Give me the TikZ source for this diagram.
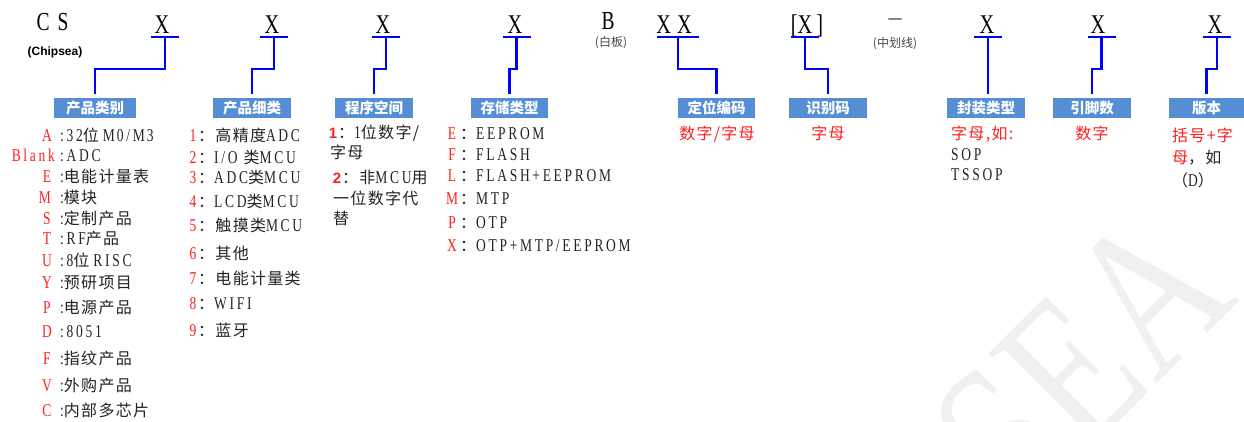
\documentclass[tikz,border=0pt]{standalone}
\usepackage{fontspec}
\usepackage{graphicx}
\setmainfont{Liberation Serif}
\newfontfamily\latn{Liberation Serif}[FakeStretch=0.75]
\newfontfamily\latsp{Liberation Serif}[FakeStretch=0.75,LetterSpace=15]
\newfontfamily\latw{Liberation Serif}
\newfontfamily\arb{Liberation Sans}
\newfontfamily\cjk{Noto Sans CJK SC}
\newfontfamily\cjksp{Noto Sans CJK SC}[LetterSpace=8]
\newcommand\zh[1]{{\cjksp\fontsize{16}{18}\selectfont #1}}
\definecolor{boxblue}{RGB}{85,142,213}
\definecolor{lineblue}{RGB}{0,0,255}
\definecolor{myred}{RGB}{255,30,30}
\definecolor{txt}{RGB}{35,35,35}
\definecolor{wmc}{RGB}{240,240,240}
\definecolor{gr}{RGB}{70,70,70}
\tikzset{
  topl/.style={anchor=base,inner sep=0,text=black,font=\fontsize{27}{27}\selectfont\latn},
  small/.style={anchor=base,inner sep=0,text=gr,font=\fontsize{12}{12}\selectfont\cjk},
  uline/.style={draw=lineblue,line width=2pt},
  conn/.style={draw=lineblue,line width=2.2pt},
  lbl/.style={fill=boxblue,text=white,inner sep=0,minimum height=20pt,font=\fontsize{14.5}{14.5}\selectfont\cjk\bfseries},
  key/.style={anchor=base,inner sep=0,text=myred,font=\fontsize{18}{18}\selectfont\latsp},
  lst/.style={anchor=base west,inner sep=0,text=txt,font=\fontsize{18}{18}\selectfont\latsp},
  rdesc/.style={anchor=base,inner sep=0,text=myred,font=\fontsize{16}{18}\selectfont\cjksp},
  bkey/.style={anchor=base,inner sep=0,text=myred,font=\fontsize{15}{15}\selectfont\arb\bfseries},
  wmark/.style={anchor=base west,inner sep=0,rotate=45,text=wmc,font=\fontsize{214}{214}\selectfont\latw}
}
\begin{document}
\begin{tikzpicture}[x=1pt,y=-1pt]
\useasboundingbox (0,0) rectangle (1244,421);
\begin{scope}
\clip (0,0) rectangle (1244,421);
\node[wmark] (wm) at (1020,521) {\scalebox{0.77}[1]{SEA}};
\end{scope}

% top code line
\node[topl,font=\fontsize{26}{26}\selectfont\latn] (cs) at (52.5,30) {C\kern8pt S};
\node[anchor=base,inner sep=0,font=\fontsize{12}{12}\selectfont\arb\bfseries] (chip) at (55,55) {(Chipsea)};
\node[topl] (x1) at (162,33) {X};
\node[topl] (x2) at (272,33) {X};
\node[topl] (x3) at (383,33) {X};
\node[topl] (x4) at (515,33) {X};
\node[topl,font=\fontsize{26}{26}\selectfont\latn] (bb) at (608,29) {B};
\node[small] (baiban) at (611,46) {(白板)};
\node[topl] (xx) at (674,33) {X\kern6pt X};
\node[topl] (xid) at (807,33) {[X\kern4pt]};
\node[anchor=center,inner sep=0,text=gr,font=\fontsize{26}{26}\selectfont\latw] (dash) at (895,22) {–};
\node[small] (zhx) at (895,47) {(中划线)};
\node[topl] (x5) at (987,33) {X};
\node[topl] (x6) at (1098,33) {X};
\node[topl] (x7) at (1215,33) {X};

% underline anchor points
\coordinate (u1) at (165,37);
\coordinate (u2) at (274,37);
\coordinate (u3) at (386,37);
\coordinate (u4) at (516.5,37);
\coordinate (u5) at (678,37);
\coordinate (u6) at (805,37);
\coordinate (u7) at (988,37);
\coordinate (u8) at (1101.5,37);
\coordinate (u9) at (1217,37);
\foreach \u in {u1,u2,u3,u4,u6,u7,u8,u9}{\draw[uline] ([xshift=-14pt]\u) -- ([xshift=14pt]\u);}
\draw[uline] ([xshift=-21pt]u5) -- ([xshift=21pt]u5);

% label boxes
\node[lbl,minimum width=82pt] (b1) at (95,108) {产品类别};
\node[lbl,minimum width=78pt] (b2) at (252,108) {产品细类};
\node[lbl,minimum width=78pt] (b3) at (374,108) {程序空间};
\node[lbl,minimum width=77pt] (b4) at (509.5,108) {存储类型};
\node[lbl,minimum width=77pt] (b5) at (716.5,108) {定位编码};
\node[lbl,minimum width=78pt] (b6) at (828,108) {识别码};
\node[lbl,minimum width=78pt] (b7) at (986,108) {封装类型};
\node[lbl,minimum width=78pt] (b8) at (1092,108) {引脚数};
\node[lbl,minimum width=75pt] (b9) at (1206.5,108) {版本};

% connectors
\draw[conn] (u1) -- ++(0,32) -| ([yshift=4pt]b1.north);
\draw[conn] (u2) -- ++(0,32) -| ([yshift=4pt]b2.north);
\draw[conn] (u3) -- ++(0,32) -| ([yshift=4pt]b3.north);
\draw[conn] (u4) -- ++(0,32) -| ([yshift=4pt]b4.north);
\draw[conn] (u5) -- ++(0,32) -| ([yshift=4pt]b5.north);
\draw[conn] (u6) -- ++(0,32) -| ([yshift=4pt]b6.north);
\path (u7 |- b7.north) coordinate (t7);
\draw[conn] (u7) -- ([yshift=4pt]t7);
\draw[conn] (u8) -- ++(0,32) -| ([yshift=4pt]b8.north);
\draw[conn] (u9) -- ++(0,32) -| ([yshift=4pt]b9.north);

% column 1: product category
\node[key] (kA) at (47,141) {A};
\node[lst] (tA) at (60,141) {:32\zh{位}\hspace{4pt}M\kern2pt0/M\kern2pt3};
\node[key,anchor=base east] (kBl) at (55,161) {Blank};
\node[lst] (tBl) at (60,161) {:ADC};
\node[key] (kE) at (47,182) {E};
\node[lst] (tE) at (60,182) {:\zh{电能计量表}};
\node[key] (kM) at (45,203) {M};
\node[lst] (tM) at (60,203) {:\zh{模块}};
\node[key] (kS) at (47,224) {S};
\node[lst] (tS) at (60,224) {:\zh{定制产品}};
\node[key] (kT) at (47,244) {T};
\node[lst] (tT) at (60,244) {:RF\zh{产品}};
\node[key] (kU) at (47,266) {U};
\node[lst] (tU) at (60,266) {:8\zh{位}\hspace{4pt}RISC};
\node[key] (kY) at (47,288) {Y};
\node[lst] (tY) at (60,288) {:\zh{预研项目}};
\node[key] (kP) at (47,313) {P};
\node[lst] (tP) at (60,313) {:\zh{电源产品}};
\node[key] (kD) at (47,337) {D};
\node[lst] (tD) at (60,337) {:8051};
\node[key] (kF) at (47,364) {F};
\node[lst] (tF) at (60,364) {:\zh{指纹产品}};
\node[key] (kV) at (47,391) {V};
\node[lst] (tV) at (60,391) {:\zh{外购产品}};
\node[key] (kC) at (47,416) {C};
\node[lst] (tC) at (60,416) {:\zh{内部多芯片}};

% column 2: sub-category
\node[key] (n1) at (193,141) {1};
\node[lst] (s1) at (198,141) {\zh{：高精度}ADC};
\node[key] (n2) at (193,163) {2};
\node[lst] (s2) at (198,163) {\zh{：}I/O\hspace{6pt}\zh{类}MCU};
\node[key] (n3) at (193,183) {3};
\node[lst] (s3) at (198,183) {\zh{：}ADC\zh{类}MCU};
\node[key] (n4) at (193,207) {4};
\node[lst] (s4) at (198,207) {\zh{：}LCD\zh{类}MCU};
\node[key] (n5) at (193,231) {5};
\node[lst] (s5) at (198,231) {\zh{：触摸类}MCU};
\node[key] (n6) at (193,259) {6};
\node[lst] (s6) at (198,259) {\zh{：其他}};
\node[key] (n7) at (193,284) {7};
\node[lst] (s7) at (198,284) {\zh{：电能计量类}};
\node[key] (n8) at (193,309) {8};
\node[lst] (s8) at (198,309) {\zh{：}WIFI};
\node[key] (n9) at (193,336) {9};
\node[lst] (s9) at (198,336) {\zh{：蓝牙}};

% column 3: program space
\node[bkey] (p1) at (333,138) {1};
\node[lst] (q1) at (338,138) {\zh{：}1\zh{位数字/}};
\node[lst] (q1b) at (330,158) {\zh{字母}};
\node[bkey] (p2) at (337,183) {2};
\node[lst] (q2) at (342,183) {\zh{：非}MCU\zh{用}};
\node[lst] (q2b) at (333,204) {\zh{一位数字代}};
\node[lst] (q2c) at (333,224) {\zh{替}};

% column 4: memory type
\node[key] (mE) at (452,139) {E};
\node[lst] (rE) at (460,139) {\zh{：}EEPROM};
\node[key] (mF) at (452,160) {F};
\node[lst] (rF) at (460,160) {\zh{：}FLASH};
\node[key] (mL) at (452,181) {L};
\node[lst] (rL) at (460,181) {\zh{：}FLASH+EEPROM};
\node[key] (mM) at (452,204) {M};
\node[lst] (rM) at (460,204) {\zh{：}MTP};
\node[key] (mP) at (452,228) {P};
\node[lst] (rP) at (460,228) {\zh{：}OTP};
\node[key] (mX) at (452,251) {X};
\node[lst] (rX) at (460,251) {\zh{：}OTP+MTP/EEPROM};

% right descriptions
\node[rdesc] (d5) at (717,139) {数字/字母};
\node[rdesc] (d6) at (828,139) {字母};
\node[rdesc,anchor=base west] (d7) at (951,139) {字母,如:};
\node[lst] (d7b) at (951,160) {SOP};
\node[lst] (d7c) at (951,180) {TSSOP};
\node[rdesc] (d8) at (1092,139) {数字};
\node[rdesc,anchor=base west] (d9) at (1172,141) {括号+字};
\node[rdesc,anchor=base west] (d9b) at (1172,163) {母\textcolor{txt}{，如}};
\node[lst] (d9c) at (1172,186) {\zh{（}D\zh{）}};
\end{tikzpicture}
\end{document}
